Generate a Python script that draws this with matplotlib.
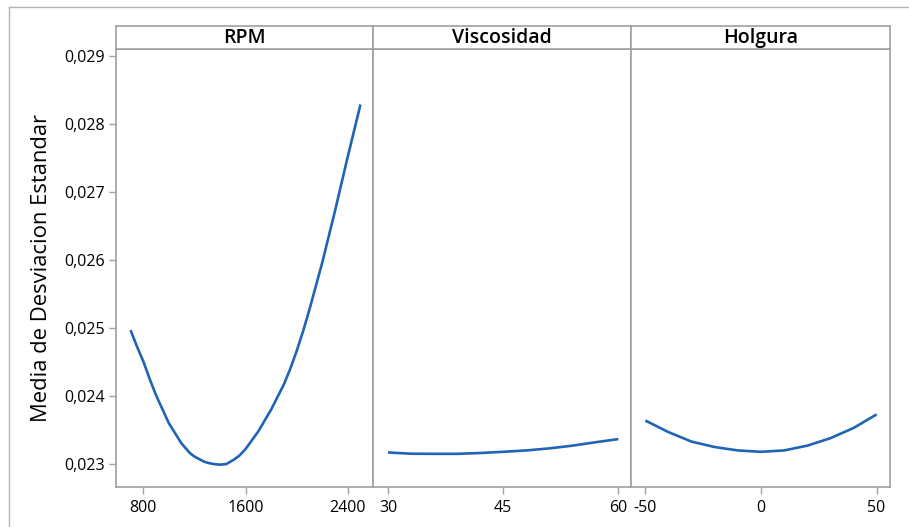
import matplotlib
matplotlib.use("Agg")
import matplotlib.pyplot as plt
from matplotlib.lines import Line2D
from matplotlib.ticker import FuncFormatter

plt.rcParams['font.family'] = ['Open Sans', 'DejaVu Sans']

# ---- data ----
rpm = [700, 750, 800, 850, 900, 1000, 1100, 1165, 1200, 1270, 1300, 1350, 1400,
       1450, 1505, 1550, 1600, 1700, 1800, 1900, 1950, 2000, 2050, 2100, 2200,
       2300, 2400, 2500]
rpm_mean = [0.02497, 0.02473, 0.02451, 0.02425, 0.02401, 0.02360, 0.02330,
            0.02316, 0.02311, 0.02304, 0.02302, 0.023, 0.02299, 0.023, 0.02306,
            0.02312, 0.02322, 0.02348, 0.02380, 0.02417, 0.02440, 0.02466,
            0.02495, 0.02527, 0.02596, 0.02672, 0.02752, 0.02829]

visc = [30, 33, 36, 39, 42, 45, 48, 51, 54, 57, 60]
visc_mean = [0.02317, 0.023152, 0.02315, 0.02315, 0.023162, 0.02318, 0.02320,
             0.02323, 0.02327, 0.02332, 0.023367]

holg = [-50, -40, -30, -20, -10, 0, 10, 20, 30, 40, 50]
holg_mean = [0.02364, 0.02347, 0.02333, 0.02325, 0.02320, 0.02318, 0.02320,
             0.02327, 0.02338, 0.02353, 0.02373]

panels = ["RPM", "Viscosidad", "Holgura"]
xticks = [[800, 1600, 2400], [30, 45, 60], [-50, 0, 50]]
yticks = [0.023, 0.024, 0.025, 0.026, 0.027, 0.028, 0.029]
ylabel = "Media de Desviacion Estandar"

xs = [rpm, visc, holg]
ys = [rpm_mean, visc_mean, holg_mean]
xlims = [(586, 2598), (28.04, 61.66), (-56.2, 55.8)]
ylim = (0.022662, 0.029107)

W, H = 909, 527
fig = plt.figure(figsize=(W / 100, H / 100), dpi=100)

edge = "#a0a0a0"
blue = "#1f64b5"
txt = "#000000"

# outer frame (left & top only)
fig.add_artist(Line2D([9 / W, 9 / W], [0, 1 - 7 / H], transform=fig.transFigure,
                      color="#b4b4b4", lw=1))
fig.add_artist(Line2D([9 / W, 1], [1 - 7 / H, 1 - 7 / H], transform=fig.transFigure,
                      color="#b4b4b4", lw=1))

lefts = [116, 373, 631]
rights = [373, 631, 890]
top, bottom = 49, 487
strip_top = 26

for i in range(3):
    l = lefts[i] / W
    w = (rights[i] - lefts[i]) / W
    b = 1 - bottom / H
    h = (bottom - top) / H
    ax = fig.add_axes([l, b, w, h])
    ax.plot(xs[i], ys[i], color=blue, lw=1.9, solid_capstyle='butt',
            solid_joinstyle='round')
    ax.set_xlim(*xlims[i])
    ax.set_ylim(*ylim)
    ax.set_xticks(xticks[i])
    ax.set_xticklabels([str(v) for v in xticks[i]], fontweight='medium')
    for s in ax.spines.values():
        s.set_color(edge)
        s.set_linewidth(1.2)
    ax.tick_params(axis='x', direction='out', length=5, width=1, color=edge,
                   labelsize=11.5, pad=4, labelcolor=txt)
    if i == 0:
        ax.set_yticks(yticks)
        ax.yaxis.set_major_formatter(FuncFormatter(lambda v, p: f"{v:.3f}".replace(".", ",")))
        for t in ax.get_yticklabels():
            t.set_fontweight('medium')
        ax.tick_params(axis='y', direction='out', length=5, width=1, color=edge,
                       labelsize=11.5, pad=3, labelcolor=txt)
        ax.set_ylabel(ylabel, fontsize=15.8, color=txt, fontweight='medium')
        ax.yaxis.set_label_coords(-0.25, 0.5)
    else:
        ax.set_yticks([])
    # strip
    sax = fig.add_axes([l, 1 - top / H, w, (top - strip_top) / H])
    sax.set_xticks([])
    sax.set_yticks([])
    for s in sax.spines.values():
        s.set_color(edge)
        s.set_linewidth(1.2)
    sax.text(0.5, 0.46, panels[i], ha='center', va='center', fontsize=14,
             fontweight='semibold', color=txt, transform=sax.transAxes)

fig.savefig("out.png", dpi=100)
